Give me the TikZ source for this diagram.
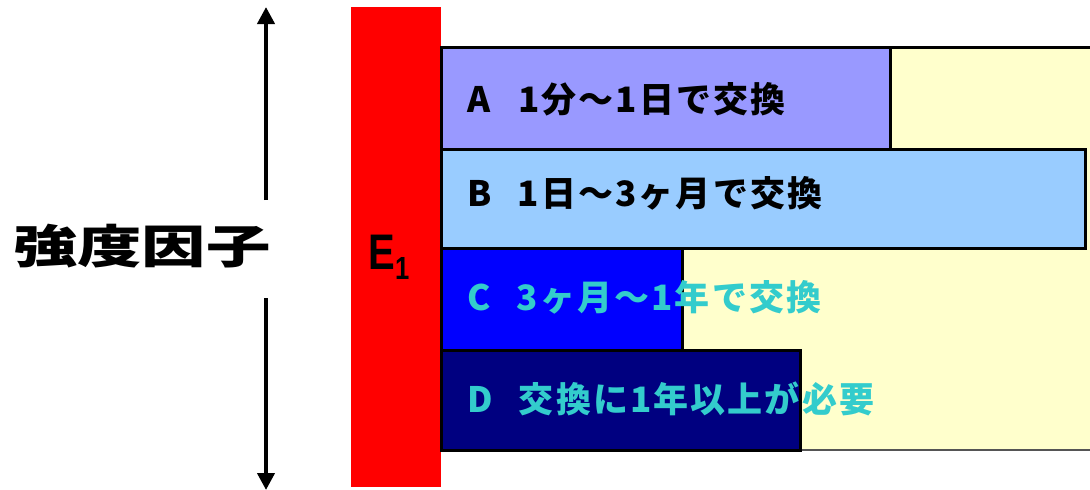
\documentclass[tikz,border=0pt]{standalone}
\usepackage{fontspec}
\usepackage{graphicx}
\usetikzlibrary{arrows.meta}
\newfontfamily\jp{Noto Sans CJK JP}
\newfontfamily\jpsp{Noto Sans CJK JP}[LetterSpace=6]
\newfontfamily\ars{Liberation Sans}
\definecolor{barA}{HTML}{9999FF}
\definecolor{barB}{HTML}{99CCFF}
\definecolor{barC}{HTML}{0000FF}
\definecolor{barD}{HTML}{000080}
\definecolor{paleY}{HTML}{FFFFCC}
\definecolor{cyanT}{HTML}{33CCCC}
\definecolor{edgeG}{HTML}{555555}
\begin{document}
\begin{tikzpicture}[x=1pt,y=-1pt,
  bar/.style={draw=black,line width=3pt},
  lbl/.style={anchor=west,inner sep=0pt,font=\jpsp\bfseries\fontsize{35}{35}\selectfont},
  vline/.style={line width=4pt,-{Triangle[width=17pt,length=17pt]}}]
\useasboundingbox (0,0) rectangle (1090,490);
\fill[white] (0,0) rectangle (1090,490);
% background
\fill[paleY] (441,47) rectangle (1100,449);
\draw[black,line width=3pt] (441,47) -- (1100,47);
\draw[edgeG,line width=2pt] (441,449.5) -- (1100,449.5);
% red E1 column
\fill[red] (351,7) rectangle (441,487);
% bars
\draw[bar,fill=barA] (441,47) rectangle (890,149);
\draw[bar,fill=barB] (441,149) rectangle (1085,248);
\draw[bar,fill=barC] (441,248) rectangle (682,350);
\draw[bar,fill=barD] (441,350) rectangle (800,450);
% labels
\node[lbl] (la) at (467,99) {A\hspace{0.8em}1分～1日で交換};
\node[lbl] (lb) at (467,193) {B\hspace{0.75em}1日～3ヶ月で交換};
\node[lbl,text=cyanT] (lc) at (467,297) {C\hspace{0.75em}3ヶ月～1年で交換};
\node[lbl,text=cyanT] (ld) at (467,399) {D\hspace{0.75em}交換に1年以上が必要};
% E1
\node[inner sep=0pt] (e1) at (389,257) {\scalebox{0.8}[1]{\ars\bfseries\fontsize{50}{50}\selectfont E\raisebox{-10pt}{\fontsize{32}{32}\selectfont 1}}};
% left label
\node[inner sep=0pt] (title) at (142,246) {\scalebox{1.4}[1]{\jp\bfseries\fontsize{46}{46}\selectfont 強度因子}};
% arrows
\coordinate (atop) at (266,7);
\coordinate (abot) at (266,490);
\coordinate (afrom1) at (266,200);
\coordinate (afrom2) at (266,298);
\draw[vline] (afrom1) -- (atop);
\draw[vline] (afrom2) -- (abot);
\end{tikzpicture}
\end{document}
